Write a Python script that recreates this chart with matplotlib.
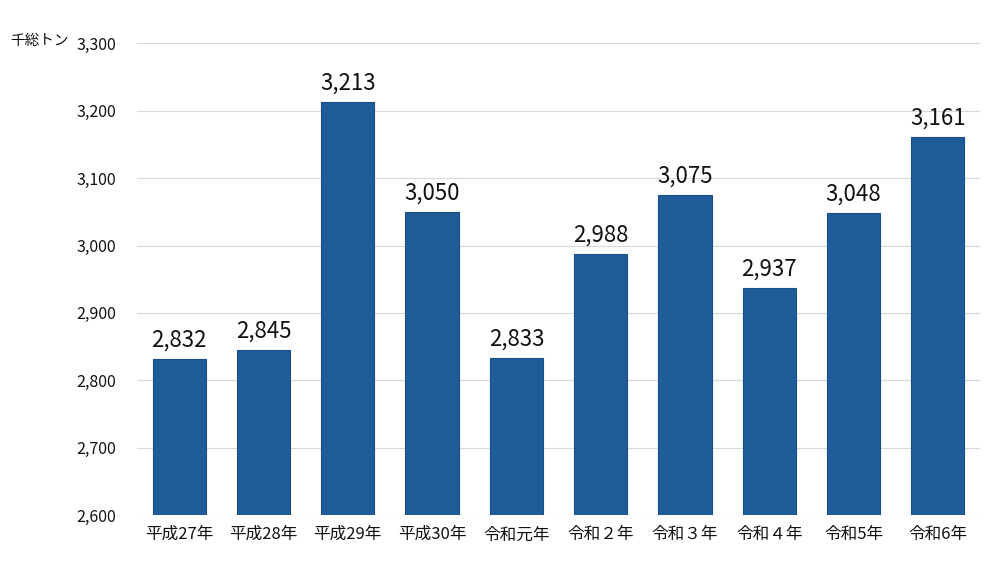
import matplotlib
matplotlib.use("Agg")
import matplotlib.pyplot as plt

plt.rcParams['font.family'] = ['Noto Sans CJK JP', 'DejaVu Sans']

categories = ["平成27年", "平成28年", "平成29年", "平成30年", "令和元年",
              "令和２年", "令和３年", "令和４年", "令和5年", "令和6年"]
values = [2832, 2845, 3213, 3050, 2833, 2988, 3075, 2937, 3048, 3161]
yticks = [2600, 2700, 2800, 2900, 3000, 3100, 3200, 3300]
unit_label = "千総トン"

fig = plt.figure(figsize=(10, 5.63), dpi=100)
ax = fig.add_axes([0.137, 0.085, 0.843, 0.838])

x = range(len(categories))
ax.bar(x, values, width=0.63, color="#1F5C99", edgecolor="#1A4F86", linewidth=0.8, zorder=3)
for i, v in zip(x, values):
    ax.text(i, v + 11, f"{v:,}", ha="center", va="bottom", fontsize=16, color="#111111")

ax.set_ylim(2600, 3300)
ax.set_xlim(-0.5, len(categories) - 0.5)
ax.set_yticks(yticks)
ax.set_yticklabels([f"{t:,}" for t in yticks], fontsize=11.5, color="#111111")
ax.set_xticks(list(x))
ax.set_xticklabels(categories, fontsize=12, color="#111111")
ax.grid(axis="y", color="#d9d9d9", linewidth=0.8, zorder=0)
for s in ax.spines.values():
    s.set_visible(False)
ax.tick_params(axis="x", length=0, pad=8)
ax.tick_params(axis="y", length=0, pad=15)

fig.text(0.01, 0.927, unit_label, fontsize=10.5, ha="left", va="center", color="#111111")

fig.savefig("out.png", dpi=100, facecolor="white")
